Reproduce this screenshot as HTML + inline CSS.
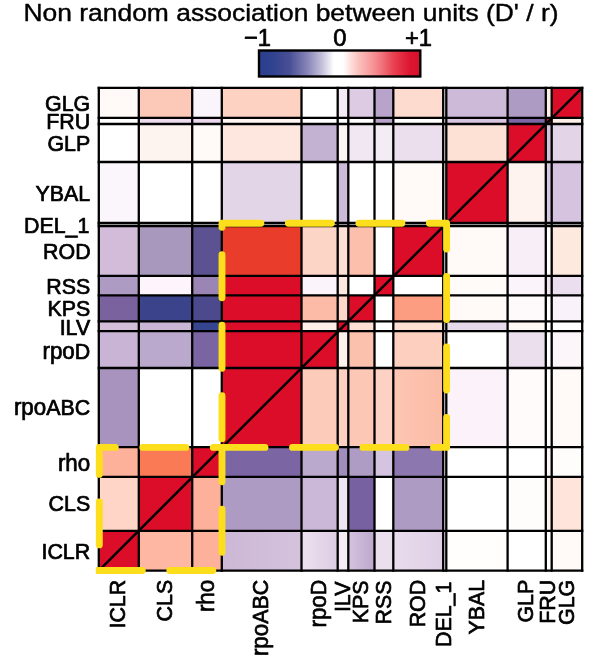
<!DOCTYPE html>
<html><head><meta charset="utf-8"><title>Non random association between units</title>
<style>
html,body{margin:0;padding:0;background:#fff;}
svg{display:block;will-change:transform;}
text{font-family:"Liberation Sans",sans-serif;fill:#000;stroke:#000;stroke-width:0.7px;stroke-linejoin:round;}
</style></head><body>
<svg width="600" height="655" viewBox="0 0 600 655">
<defs>
<linearGradient id="cb" x1="0" x2="1" y1="0" y2="0">
<stop offset="0" stop-color="#2b3f8e"/>
<stop offset="0.08" stop-color="#2f418f"/>
<stop offset="0.19" stop-color="#4a4f96"/>
<stop offset="0.30" stop-color="#8785b8"/>
<stop offset="0.385" stop-color="#c0bcd8"/>
<stop offset="0.465" stop-color="#ffffff"/>
<stop offset="0.52" stop-color="#ffffff"/>
<stop offset="0.61" stop-color="#fbc5c0"/>
<stop offset="0.725" stop-color="#f58a90"/>
<stop offset="0.837" stop-color="#e8404f"/>
<stop offset="0.936" stop-color="#dc1530"/>
<stop offset="1" stop-color="#d80f2b"/>
</linearGradient>
</defs>
<rect x="0" y="0" width="600" height="655" fill="#ffffff"/>
<text transform="translate(291 20.8) scale(1 1.03)" style="stroke-width:0.4px" font-size="23.8" text-anchor="middle" textLength="535" lengthAdjust="spacingAndGlyphs">Non random association between units (D' / r)</text>
<text transform="translate(257.5 46.2) scale(1 1.03)" font-size="23.8" text-anchor="middle">−1</text>
<text transform="translate(339.8 46.2) scale(1 1.03)" font-size="23.8" text-anchor="middle">0</text>
<text transform="translate(418.5 46.2) scale(1 1.03)" font-size="23.8" text-anchor="middle">+1</text>
<rect x="259" y="50.5" width="161.3" height="26" fill="url(#cb)" stroke="#000" stroke-width="2.4"/>
<defs><linearGradient id="g10_8" x1="0" x2="1" y1="0" y2="0"><stop offset="0" stop-color="#fdc6b3"/><stop offset="1" stop-color="#fcbca6"/></linearGradient><linearGradient id="g13_3" x1="0" x2="1" y1="0" y2="0"><stop offset="0" stop-color="#ccb8d6"/><stop offset="1" stop-color="#d4c2dd"/></linearGradient><linearGradient id="g13_4" x1="0" x2="1" y1="0" y2="0"><stop offset="0" stop-color="#ede1ef"/><stop offset="1" stop-color="#dccce4"/></linearGradient><linearGradient id="g13_6" x1="0" x2="1" y1="0" y2="0"><stop offset="0" stop-color="#d5c3de"/><stop offset="1" stop-color="#bca8cd"/></linearGradient><linearGradient id="g13_8" x1="0" x2="1" y1="0" y2="0"><stop offset="0" stop-color="#e9dcec"/><stop offset="1" stop-color="#dfcfe6"/></linearGradient></defs>
<g shape-rendering="crispEdges">
<rect x="98.8" y="87.8" width="40.0" height="30.0" fill="#fffaf8"/>
<rect x="138.8" y="87.8" width="53.4" height="30.0" fill="#fcc9b9"/>
<rect x="192.2" y="87.8" width="29.6" height="30.0" fill="#faf4fb"/>
<rect x="221.8" y="87.8" width="79.7" height="30.0" fill="#fdd2c3"/>
<rect x="337.7" y="87.8" width="10.6" height="30.0" fill="#f3eaf4"/>
<rect x="348.3" y="87.8" width="26.2" height="30.0" fill="#dccbe3"/>
<rect x="374.5" y="87.8" width="18.8" height="30.0" fill="#b8a4cb"/>
<rect x="393.3" y="87.8" width="49.9" height="30.0" fill="#fddbcf"/>
<rect x="446.3" y="87.8" width="61.3" height="30.0" fill="#cdbad9"/>
<rect x="507.6" y="87.8" width="38.2" height="30.0" fill="#ae9bc4"/>
<rect x="545.8" y="87.8" width="5.9" height="30.0" fill="#fdeee7"/>
<rect x="551.7" y="87.8" width="30.5" height="30.0" fill="#dc0d28"/>
<rect x="138.8" y="117.8" width="53.4" height="6.2" fill="#ecdcee"/>
<rect x="192.2" y="117.8" width="29.6" height="6.2" fill="#ead7ec"/>
<rect x="221.8" y="117.8" width="79.7" height="6.2" fill="#fff6f3"/>
<rect x="374.5" y="117.8" width="18.8" height="6.2" fill="#b9a2ca"/>
<rect x="446.3" y="117.8" width="61.3" height="6.2" fill="#d8c5e0"/>
<rect x="507.6" y="117.8" width="38.2" height="6.2" fill="#7c67a4"/>
<rect x="545.8" y="117.8" width="5.9" height="6.2" fill="#dc0d28"/>
<rect x="551.7" y="117.8" width="30.5" height="6.2" fill="#fdeee7"/>
<rect x="138.8" y="124.0" width="53.4" height="38.0" fill="#fef4ef"/>
<rect x="192.2" y="124.0" width="29.6" height="38.0" fill="#fffaf7"/>
<rect x="221.8" y="124.0" width="79.7" height="38.0" fill="#fee7de"/>
<rect x="301.5" y="124.0" width="36.2" height="38.0" fill="#c4b2d3"/>
<rect x="337.7" y="124.0" width="10.6" height="38.0" fill="#fdf5f3"/>
<rect x="348.3" y="124.0" width="26.2" height="38.0" fill="#f1e7f2"/>
<rect x="374.5" y="124.0" width="18.8" height="38.0" fill="#f3ecf5"/>
<rect x="393.3" y="124.0" width="49.9" height="38.0" fill="#ebdfee"/>
<rect x="446.3" y="124.0" width="61.3" height="38.0" fill="#fee1d5"/>
<rect x="507.6" y="124.0" width="38.2" height="38.0" fill="#dc0d28"/>
<rect x="545.8" y="124.0" width="5.9" height="38.0" fill="#d4c2de"/>
<rect x="551.7" y="124.0" width="30.5" height="38.0" fill="#e3d4e8"/>
<rect x="98.8" y="162.0" width="40.0" height="61.0" fill="#fbf6fb"/>
<rect x="221.8" y="162.0" width="79.7" height="61.0" fill="#e3d5e8"/>
<rect x="337.7" y="162.0" width="10.6" height="61.0" fill="#cbbad8"/>
<rect x="393.3" y="162.0" width="49.9" height="61.0" fill="#fffaf8"/>
<rect x="446.3" y="162.0" width="61.3" height="61.0" fill="#dc0d28"/>
<rect x="507.6" y="162.0" width="38.2" height="61.0" fill="#fef3ee"/>
<rect x="545.8" y="162.0" width="5.9" height="61.0" fill="#d9c8e2"/>
<rect x="551.7" y="162.0" width="30.5" height="61.0" fill="#d6c3df"/>
<rect x="443.2" y="223.0" width="3.1" height="3.0" fill="#dc0d28"/>
<rect x="98.8" y="226.0" width="40.0" height="49.9" fill="#d2bcd9"/>
<rect x="138.8" y="226.0" width="53.4" height="49.9" fill="#a998be"/>
<rect x="192.2" y="226.0" width="29.6" height="49.9" fill="#5c5291"/>
<rect x="221.8" y="226.0" width="79.7" height="49.9" fill="#e93c2a"/>
<rect x="301.5" y="226.0" width="36.2" height="49.9" fill="#fdd5c7"/>
<rect x="337.7" y="226.0" width="10.6" height="49.9" fill="#fde0d5"/>
<rect x="348.3" y="226.0" width="26.2" height="49.9" fill="#fcbfab"/>
<rect x="393.3" y="226.0" width="49.9" height="49.9" fill="#dc0d28"/>
<rect x="446.3" y="226.0" width="61.3" height="49.9" fill="#fffaf8"/>
<rect x="507.6" y="226.0" width="38.2" height="49.9" fill="#f8eef8"/>
<rect x="551.7" y="226.0" width="30.5" height="49.9" fill="#fee9df"/>
<rect x="98.8" y="275.9" width="40.0" height="19.4" fill="#ae9bc4"/>
<rect x="138.8" y="275.9" width="53.4" height="19.4" fill="#fdf5fb"/>
<rect x="192.2" y="275.9" width="29.6" height="19.4" fill="#9b85b5"/>
<rect x="221.8" y="275.9" width="79.7" height="19.4" fill="#dc0d28"/>
<rect x="301.5" y="275.9" width="36.2" height="19.4" fill="#fbf4fa"/>
<rect x="337.7" y="275.9" width="10.6" height="19.4" fill="#fde8e0"/>
<rect x="374.5" y="275.9" width="18.8" height="19.4" fill="#dc0d28"/>
<rect x="446.3" y="275.9" width="61.3" height="19.4" fill="#fffbf9"/>
<rect x="507.6" y="275.9" width="38.2" height="19.4" fill="#fbf4fb"/>
<rect x="545.8" y="275.9" width="5.9" height="19.4" fill="#efe3f1"/>
<rect x="551.7" y="275.9" width="30.5" height="19.4" fill="#ebdfef"/>
<rect x="98.8" y="295.3" width="40.0" height="26.0" fill="#7a629f"/>
<rect x="138.8" y="295.3" width="53.4" height="26.0" fill="#3b448a"/>
<rect x="192.2" y="295.3" width="29.6" height="26.0" fill="#4c4a8c"/>
<rect x="221.8" y="295.3" width="79.7" height="26.0" fill="#dc0d28"/>
<rect x="301.5" y="295.3" width="36.2" height="26.0" fill="#fcbba6"/>
<rect x="337.7" y="295.3" width="10.6" height="26.0" fill="#fdd8ca"/>
<rect x="348.3" y="295.3" width="26.2" height="26.0" fill="#dc0d28"/>
<rect x="393.3" y="295.3" width="49.9" height="26.0" fill="#fc9c80"/>
<rect x="446.3" y="295.3" width="61.3" height="26.0" fill="#fffaf7"/>
<rect x="507.6" y="295.3" width="38.2" height="26.0" fill="#fefafc"/>
<rect x="551.7" y="295.3" width="30.5" height="26.0" fill="#faf2fa"/>
<rect x="98.8" y="321.3" width="40.0" height="9.8" fill="#d4bfdb"/>
<rect x="138.8" y="321.3" width="53.4" height="9.8" fill="#cab5d5"/>
<rect x="192.2" y="321.3" width="29.6" height="9.8" fill="#354590"/>
<rect x="221.8" y="321.3" width="79.7" height="9.8" fill="#dc0d28"/>
<rect x="301.5" y="321.3" width="36.2" height="9.8" fill="#feeee8"/>
<rect x="337.7" y="321.3" width="10.6" height="9.8" fill="#dc0d28"/>
<rect x="348.3" y="321.3" width="26.2" height="9.8" fill="#fddfd3"/>
<rect x="393.3" y="321.3" width="49.9" height="9.8" fill="#fedfd3"/>
<rect x="446.3" y="321.3" width="61.3" height="9.8" fill="#e6d9eb"/>
<rect x="507.6" y="321.3" width="38.2" height="9.8" fill="#fff9f6"/>
<rect x="98.8" y="331.1" width="40.0" height="36.9" fill="#c9b4d5"/>
<rect x="138.8" y="331.1" width="53.4" height="36.9" fill="#bba8cd"/>
<rect x="192.2" y="331.1" width="29.6" height="36.9" fill="#7a65a2"/>
<rect x="221.8" y="331.1" width="79.7" height="36.9" fill="#dc0d28"/>
<rect x="301.5" y="331.1" width="36.2" height="36.9" fill="#dc0d28"/>
<rect x="337.7" y="331.1" width="10.6" height="36.9" fill="#fef2ed"/>
<rect x="348.3" y="331.1" width="26.2" height="36.9" fill="#fcc1ad"/>
<rect x="393.3" y="331.1" width="49.9" height="36.9" fill="#fdcfbf"/>
<rect x="507.6" y="331.1" width="38.2" height="36.9" fill="#ebdfee"/>
<rect x="551.7" y="331.1" width="30.5" height="36.9" fill="#fcf6fb"/>
<rect x="98.8" y="368.0" width="40.0" height="79.2" fill="#a793be"/>
<rect x="221.8" y="368.0" width="79.7" height="79.2" fill="#dc0d28"/>
<rect x="301.5" y="368.0" width="36.2" height="79.2" fill="#fdcbba"/>
<rect x="337.7" y="368.0" width="10.6" height="79.2" fill="#fdd1c2"/>
<rect x="348.3" y="368.0" width="26.2" height="79.2" fill="#fdc7b5"/>
<rect x="374.5" y="368.0" width="18.8" height="79.2" fill="#fdd1c3"/>
<rect x="393.3" y="368.0" width="49.9" height="79.2" fill="url(#g10_8)"/>
<rect x="446.3" y="368.0" width="61.3" height="79.2" fill="#fcf3fa"/>
<rect x="507.6" y="368.0" width="38.2" height="79.2" fill="#fffbfa"/>
<rect x="551.7" y="368.0" width="30.5" height="79.2" fill="#fffaf8"/>
<rect x="98.8" y="447.2" width="40.0" height="29.7" fill="#fdb19a"/>
<rect x="138.8" y="447.2" width="53.4" height="29.7" fill="#f97a55"/>
<rect x="192.2" y="447.2" width="29.6" height="29.7" fill="#dc0d28"/>
<rect x="221.8" y="447.2" width="79.7" height="29.7" fill="#7b65a3"/>
<rect x="301.5" y="447.2" width="36.2" height="29.7" fill="#bba8cd"/>
<rect x="337.7" y="447.2" width="10.6" height="29.7" fill="#a08dbb"/>
<rect x="348.3" y="447.2" width="26.2" height="29.7" fill="#ae9cc4"/>
<rect x="374.5" y="447.2" width="18.8" height="29.7" fill="#d5c4df"/>
<rect x="393.3" y="447.2" width="49.9" height="29.7" fill="#8c78ae"/>
<rect x="545.8" y="447.2" width="5.9" height="29.7" fill="#fdf5f8"/>
<rect x="551.7" y="447.2" width="30.5" height="29.7" fill="#fffdfc"/>
<rect x="98.8" y="476.9" width="40.0" height="54.0" fill="#fed5c6"/>
<rect x="138.8" y="476.9" width="53.4" height="54.0" fill="#dc0d28"/>
<rect x="192.2" y="476.9" width="29.6" height="54.0" fill="#fdb09a"/>
<rect x="221.8" y="476.9" width="79.7" height="54.0" fill="#ae9bc3"/>
<rect x="301.5" y="476.9" width="36.2" height="54.0" fill="#cbb8d8"/>
<rect x="337.7" y="476.9" width="10.6" height="54.0" fill="#efe4f1"/>
<rect x="348.3" y="476.9" width="26.2" height="54.0" fill="#7861a0"/>
<rect x="393.3" y="476.9" width="49.9" height="54.0" fill="#ae9bc4"/>
<rect x="507.6" y="476.9" width="38.2" height="54.0" fill="#fffdfc"/>
<rect x="545.8" y="476.9" width="5.9" height="54.0" fill="#fef2ee"/>
<rect x="551.7" y="476.9" width="30.5" height="54.0" fill="#fee4da"/>
<rect x="98.8" y="530.9" width="40.0" height="39.7" fill="#dc0d28"/>
<rect x="138.8" y="530.9" width="53.4" height="39.7" fill="#fdb7a2"/>
<rect x="192.2" y="530.9" width="29.6" height="39.7" fill="#fdb09a"/>
<rect x="221.8" y="530.9" width="79.7" height="39.7" fill="url(#g13_3)"/>
<rect x="301.5" y="530.9" width="36.2" height="39.7" fill="url(#g13_4)"/>
<rect x="337.7" y="530.9" width="10.6" height="39.7" fill="#f4ebf5"/>
<rect x="348.3" y="530.9" width="26.2" height="39.7" fill="url(#g13_6)"/>
<rect x="374.5" y="530.9" width="18.8" height="39.7" fill="#ebdfee"/>
<rect x="393.3" y="530.9" width="49.9" height="39.7" fill="url(#g13_8)"/>
<rect x="446.3" y="530.9" width="61.3" height="39.7" fill="#fffefd"/>
<rect x="551.7" y="530.9" width="30.5" height="39.7" fill="#fffaf7"/>
</g>
<g stroke="#000" stroke-width="2.3" stroke-linecap="square" fill="none">
<line x1="98.8" y1="87.8" x2="98.8" y2="570.6"/>
<line x1="138.8" y1="87.8" x2="138.8" y2="570.6"/>
<line x1="192.2" y1="87.8" x2="192.2" y2="570.6"/>
<line x1="221.8" y1="87.8" x2="221.8" y2="570.6"/>
<line x1="301.5" y1="87.8" x2="301.5" y2="570.6"/>
<line x1="337.7" y1="87.8" x2="337.7" y2="570.6"/>
<line x1="348.3" y1="87.8" x2="348.3" y2="570.6"/>
<line x1="374.5" y1="87.8" x2="374.5" y2="570.6"/>
<line x1="393.3" y1="87.8" x2="393.3" y2="570.6"/>
<line x1="443.2" y1="87.8" x2="443.2" y2="570.6"/>
<line x1="446.3" y1="87.8" x2="446.3" y2="570.6"/>
<line x1="507.6" y1="87.8" x2="507.6" y2="570.6"/>
<line x1="545.8" y1="87.8" x2="545.8" y2="570.6"/>
<line x1="551.7" y1="87.8" x2="551.7" y2="570.6"/>
<line x1="582.2" y1="87.8" x2="582.2" y2="570.6"/>
<line x1="98.8" y1="87.8" x2="582.2" y2="87.8"/>
<line x1="98.8" y1="117.8" x2="582.2" y2="117.8"/>
<line x1="98.8" y1="124.0" x2="582.2" y2="124.0"/>
<line x1="98.8" y1="162.0" x2="582.2" y2="162.0"/>
<line x1="98.8" y1="223.0" x2="582.2" y2="223.0"/>
<line x1="98.8" y1="226.0" x2="582.2" y2="226.0"/>
<line x1="98.8" y1="275.9" x2="582.2" y2="275.9"/>
<line x1="98.8" y1="295.3" x2="582.2" y2="295.3"/>
<line x1="98.8" y1="321.3" x2="582.2" y2="321.3"/>
<line x1="98.8" y1="331.1" x2="582.2" y2="331.1"/>
<line x1="98.8" y1="368.0" x2="582.2" y2="368.0"/>
<line x1="98.8" y1="447.2" x2="582.2" y2="447.2"/>
<line x1="98.8" y1="476.9" x2="582.2" y2="476.9"/>
<line x1="98.8" y1="530.9" x2="582.2" y2="530.9"/>
<line x1="98.8" y1="570.6" x2="582.2" y2="570.6"/>
<line x1="98.8" y1="570.6" x2="582.2" y2="87.8" stroke-linecap="butt" stroke-width="2.5"/>
</g>
<path d="M222.0 447.4 L446.6 447.4 L446.6 223.2 L222.0 223.2 Z" fill="none" stroke="#fdde1c" stroke-width="6.9" stroke-linecap="round" stroke-linejoin="round" stroke-dasharray="43 27.5"/>
<path d="M99.3 570.5 L222.0 570.5 L222.0 447.4 L99.3 447.4 Z" fill="none" stroke="#fdde1c" stroke-width="6.9" stroke-linecap="round" stroke-linejoin="round" stroke-dasharray="43 27.5"/>
<rect x="95.85" y="567.05" width="6" height="6.9" fill="#fdde1c"/>
<text transform="translate(90.2 110.5) scale(1 1.035)" font-size="21.4" text-anchor="end">GLG</text>
<text transform="translate(90.2 128.5) scale(1 1.035)" font-size="21.4" text-anchor="end">FRU</text>
<text transform="translate(90.2 150.5) scale(1 1.035)" font-size="21.4" text-anchor="end">GLP</text>
<text transform="translate(90.2 200.5) scale(1 1.035)" font-size="21.4" text-anchor="end">YBAL</text>
<text transform="translate(89.4 233) scale(1 1.035)" font-size="21.4" text-anchor="end">DEL_1</text>
<text transform="translate(90.6 259.3) scale(1 1.035)" font-size="21.4" text-anchor="end">ROD</text>
<text transform="translate(90.2 294) scale(1 1.035)" font-size="21.4" text-anchor="end">RSS</text>
<text transform="translate(90.2 315.5) scale(1 1.035)" font-size="21.4" text-anchor="end">KPS</text>
<text transform="translate(90.2 334.5) scale(1 1.035)" font-size="21.4" text-anchor="end">ILV</text>
<text transform="translate(90.2 358.6) scale(1 1.035)" font-size="21.4" text-anchor="end"><tspan font-size="22.36">rpo</tspan>D</text>
<text transform="translate(90.2 415.2) scale(1 1.035)" font-size="21.4" text-anchor="end"><tspan font-size="22.36">rpo</tspan>ABC</text>
<text transform="translate(90.2 471.4) scale(1 1.035)" font-size="21.4" text-anchor="end"><tspan font-size="22.36">rho</tspan></text>
<text transform="translate(90.2 511.4) scale(1 1.035)" font-size="21.4" text-anchor="end">CLS</text>
<text transform="translate(90.2 559.4) scale(1 1.035)" font-size="21.4" text-anchor="end">ICLR</text>
<text transform="translate(125.4 579.8) rotate(-90) scale(1 1.035)" font-size="21.4" text-anchor="end">ICLR</text>
<text transform="translate(172.1 579.8) rotate(-90) scale(1 1.035)" font-size="21.4" text-anchor="end">CLS</text>
<text transform="translate(213.6 579.8) rotate(-90) scale(1 1.035)" font-size="21.4" text-anchor="end"><tspan font-size="22.36">rho</tspan></text>
<text transform="translate(268.2 579.8) rotate(-90) scale(1 1.035)" font-size="21.4" text-anchor="end"><tspan font-size="22.36">rpo</tspan>ABC</text>
<text transform="translate(326.2 579.8) rotate(-90) scale(1 1.035)" font-size="21.4" text-anchor="end"><tspan font-size="22.36">rpo</tspan>D</text>
<text transform="translate(349.6 581.6) rotate(-90) scale(1 1.035)" font-size="21.4" text-anchor="end">ILV</text>
<text transform="translate(368.0 580.4) rotate(-90) scale(1 1.035)" font-size="21.4" text-anchor="end">KPS</text>
<text transform="translate(390.5 580.4) rotate(-90) scale(1 1.035)" font-size="21.4" text-anchor="end">RSS</text>
<text transform="translate(424.9 579.8) rotate(-90) scale(1 1.035)" font-size="21.4" text-anchor="end">ROD</text>
<text transform="translate(451.4 581.6) rotate(-90) scale(1 1.035)" font-size="21.4" text-anchor="end">DEL_1</text>
<text transform="translate(483.6 579.8) rotate(-90) scale(1 1.035)" font-size="21.4" text-anchor="end">YBAL</text>
<text transform="translate(533.3 579.8) rotate(-90) scale(1 1.035)" font-size="21.4" text-anchor="end">GLP</text>
<text transform="translate(555.4 579.8) rotate(-90) scale(1 1.035)" font-size="21.4" text-anchor="end">FRU</text>
<text transform="translate(573.6 579.8) rotate(-90) scale(1 1.035)" font-size="21.4" text-anchor="end">GLG</text>
</svg>
</body></html>
